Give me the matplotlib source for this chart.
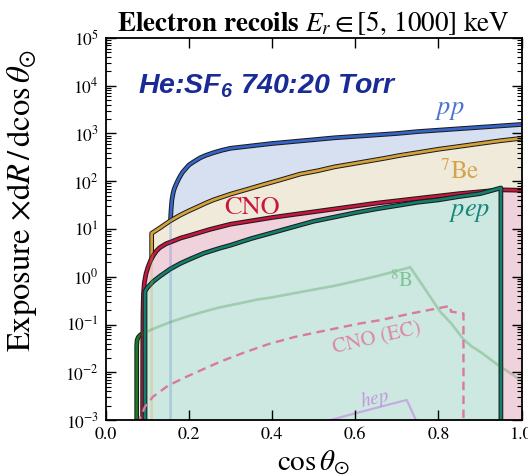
import matplotlib
matplotlib.use("Agg")
import numpy as np
import matplotlib.pyplot as plt
import matplotlib.patheffects as pe
from matplotlib.ticker import LogLocator, NullFormatter, FixedLocator

plt.rcParams['font.family'] = ['STIXGeneral', 'DejaVu Serif']
plt.rcParams['mathtext.fontset'] = 'stix'
# custom math font used only by the gas-mixture label
plt.rcParams['mathtext.rm'] = 'Liberation Sans:bold:italic'
plt.rcParams['mathtext.it'] = 'Liberation Sans:bold:italic'
plt.rcParams['mathtext.bf'] = 'Liberation Sans:bold:italic'

# ---- event rates per unit cos(theta_sun) ----
pp_cos = [0.156, 0.156, 0.157, 0.159, 0.162, 0.164, 0.167, 0.171, 0.175, 0.18,
          0.185, 0.19, 0.20, 0.21, 0.227, 0.24, 0.26, 0.28, 0.30, 0.35,
          0.40, 0.45, 0.50, 0.55, 0.60, 0.65, 0.70, 0.75, 0.80, 0.85,
          0.90, 0.95, 1.00]
pp_rate = [1e-4, 16.6, 24.0, 39.8, 56.2, 66.0, 77.6, 93.0, 110, 132,
           155, 174, 219, 251, 309, 347, 398, 447, 490, 550,
           617, 676, 741, 813, 871, 933, 1000, 1096, 1175, 1259,
           1349, 1445, 1549]

be7_cos = [0.1105, 0.1105, 0.13, 0.155, 0.179, 0.20, 0.22, 0.24, 0.259, 0.30,
           0.34, 0.379, 0.42, 0.467, 0.51, 0.55, 0.59, 0.63, 0.67, 0.707,
           0.75, 0.80, 0.85, 0.90, 0.95, 1.00]
be7_rate = [1e-4, 8.13, 10.5, 14.8, 19.5, 24.0, 28.8, 34.7, 40.7, 53.7,
            67.6, 85.1, 107, 141, 166, 200, 229, 263, 302, 347,
            398, 468, 537, 617, 708, 794]

cno_cos = [0.0885, 0.089, 0.0898, 0.0908, 0.093, 0.097, 0.102, 0.108, 0.114, 0.122,
           0.13, 0.145, 0.16, 0.18, 0.20, 0.25, 0.30, 0.35, 0.40, 0.45,
           0.50, 0.55, 0.60, 0.65, 0.70, 0.75, 0.80, 0.85, 0.90, 0.95,
           1.00]
cno_rate = [1e-4, 0.0316, 0.20, 0.447, 0.759, 1.17, 1.62, 2.19, 2.75, 3.47,
            4.07, 4.90, 5.50, 6.46, 7.24, 9.77, 12.6, 14.8, 17.4, 20.0,
            22.9, 26.3, 30.2, 34.7, 38.9, 43.7, 49.0, 55.0, 60.3, 66.1,
            64.6]

pep_cos = [0.0945, 0.0945, 0.10, 0.114, 0.13, 0.155, 0.18, 0.20, 0.235, 0.275,
           0.30, 0.35, 0.40, 0.45, 0.50, 0.55, 0.60, 0.65, 0.70, 0.75,
           0.80, 0.85, 0.90, 0.925, 0.95, 0.95]
pep_rate = [1e-4, 0.49, 0.589, 0.794, 1.02, 1.45, 1.91, 2.29, 3.09, 3.98,
            4.57, 6.31, 8.32, 11.0, 14.5, 17.8, 21.9, 26.3, 30.9, 36.3,
            40.7, 47.9, 55.0, 63.0, 72.4, 1e-4]

b8_cos = [0.0745, 0.0745, 0.0755, 0.078, 0.083, 0.09, 0.0985, 0.12, 0.155, 0.20,
          0.24, 0.275, 0.32, 0.363, 0.40, 0.45, 0.50, 0.55, 0.60, 0.65,
          0.69, 0.732, 0.764, 0.78, 0.804, 0.82, 0.83, 0.86, 0.88, 0.90,
          0.948, 0.975, 1.00]
b8_rate = [1e-4, 0.0355, 0.0468, 0.0537, 0.0603, 0.0646, 0.0708, 0.085, 0.112, 0.151,
           0.19, 0.229, 0.275, 0.331, 0.37, 0.447, 0.537, 0.646, 0.81, 1.02,
           1.26, 1.58, 0.617, 0.38, 0.186, 0.132, 0.107, 0.049, 0.0347, 0.0269,
           0.0132, 0.0093, 0.0066]

cnoec_cos = [0.080, 0.0827, 0.0945, 0.114, 0.15, 0.195, 0.275, 0.335, 0.395, 0.455,
             0.515, 0.611, 0.659, 0.74, 0.828, 0.830, 0.86, 0.86]
cnoec_rate = [7.9e-4, 1.1e-3, 1.9e-3, 3.09e-3, 5.25e-3, 8.13e-3, 0.0166, 0.0263, 0.0398, 0.055,
              0.0708, 0.105, 0.123, 0.174, 0.245, 0.186, 0.170, 1e-4]

hep_cos = [0.40, 0.523, 0.60, 0.7235, 0.748, 0.76]
hep_rate = [4e-4, 9.1e-4, 1.38e-3, 2.63e-3, 9.1e-4, 5e-4]

x_ticks = [0.0, 0.2, 0.4, 0.6, 0.8, 1.0]
x_ticklabels = ['0.0', '0.2', '0.4', '0.6', '0.8', '1.0']
y_ticks = [1e-3, 1e-2, 1e-1, 1e0, 1e1, 1e2, 1e3, 1e4, 1e5]

# ---- colours ----
c_pp, f_pp = '#3565c8', '#d6e0f1'
c_be, f_be = '#d4a23a', '#f0eadb'
c_cno, f_cno = '#c8163f', '#efd2dc'
c_pep, f_pep = '#12806c', '#cde8e0'
c_b8 = '#1a7a22'
c_ec = '#d77a9c'
c_hep = '#c39ee0'

fig = plt.figure(figsize=(5.28, 4.76), dpi=100)
ax = fig.add_axes([105.7 / 528, 56 / 476, 416 / 528, 382 / 476])
ax.set_yscale('log')
ax.set_xlim(0, 1)
ax.set_ylim(1e-3, 1e5)

outline = [pe.Stroke(linewidth=3.4, foreground='#1c1c1c'), pe.Normal()]
floor = 1e-5

# 8B edge underneath the filled regions
ax.plot(b8_cos, b8_rate, color=c_b8, lw=1.9, path_effects=outline, zorder=1.2,
        solid_joinstyle='round')

layers = [(pp_cos, pp_rate, c_pp, f_pp),
          (be7_cos, be7_rate, c_be, f_be),
          (cno_cos, cno_rate, c_cno, f_cno),
          (pep_cos, pep_rate, c_pep, f_pep)]
for i, (xc, yr, lc, fc) in enumerate(layers):
    z = 1.5 + i
    ax.fill_between(xc, yr, floor, color=fc, lw=0, zorder=z)
    ax.plot(xc, yr, color=lc, lw=1.9, path_effects=outline, zorder=z + 0.1,
            solid_joinstyle='round')

# faint traces showing through the filled regions
ax.plot(pp_cos, pp_rate, color=c_pp, lw=1.9, alpha=0.22, zorder=6)
ax.plot(be7_cos, be7_rate, color=c_be, lw=1.9, alpha=0.25, zorder=6)
ax.plot(b8_cos, b8_rate, color=c_b8, lw=1.9, alpha=0.25, zorder=6,
        solid_joinstyle='round')
ax.plot(cnoec_cos, cnoec_rate, color=c_ec, lw=1.7, ls=(0, (3.6, 2.3)), zorder=6)
ax.plot(hep_cos, hep_rate, color=c_hep, lw=1.6, alpha=0.8, zorder=6)

# source labels
ax.text(0.828, 10**3.49, r'$pp$', color='#4a74d0', fontsize=19, ha='center', va='center', zorder=7)
ax.text(0.85, 10**2.19, r'$^{7}$Be', color='#d3a548', fontsize=18, ha='center', va='center', zorder=7)
ax.text(0.351, 10**1.43, 'CNO', color=c_cno, fontsize=19, ha='center', va='center', zorder=7)
ax.text(0.875, 10**1.36, r'$pep$', color='#17877a', fontsize=19, ha='center', va='center', zorder=7)
ax.text(0.711, 10**-0.10, r'$^{8}$B', color='#7cc495', fontsize=15, ha='center', va='center', zorder=7)
ax.text(0.653, 10**-1.29, 'CNO (EC)', color='#dc86a8', fontsize=15, ha='center', va='center',
        rotation=13, zorder=7)
ax.text(0.647, 10**-2.55, r'$hep$', color='#c496e0', fontsize=14, ha='center', va='center',
        rotation=13, zorder=7)

ax.text(0.078, 0.874, r'He:SF$_6$ 740:20 Torr', transform=ax.transAxes,
        family='Liberation Sans', weight='bold', style='italic', fontsize=20.5,
        color='#1a2b96', ha='left', va='center', math_fontfamily='custom', zorder=7)

ax.set_title(r'Electron recoils $E_r \in [5,\,1000]\ \mathrm{keV}$', fontsize=19.5,
             weight='bold', pad=5)
ax.set_xlabel(r'$\cos\theta_{\odot}$', fontsize=21, labelpad=4)
ax.set_ylabel(r'Exposure $\times\mathrm{d}R\,/\,\mathrm{d}\cos\theta_{\odot}$', fontsize=23.5)
ax.yaxis.set_label_coords(-0.16, 0.575)

ax.xaxis.set_major_locator(FixedLocator(x_ticks))
ax.set_xticklabels(x_ticklabels)
ax.yaxis.set_major_locator(FixedLocator(y_ticks))
ax.yaxis.set_minor_locator(LogLocator(base=10, subs=np.arange(2, 10), numticks=20))
ax.yaxis.set_minor_formatter(NullFormatter())
ax.tick_params(which='both', direction='in', top=True, right=True)
ax.tick_params(which='major', length=7, width=1.0, labelsize=13, pad=5)
ax.tick_params(which='minor', length=3.5, width=0.8)
ax.tick_params(axis='y', which='major', labelsize=12.5)

ax.xaxis.set_zorder(10)
ax.yaxis.set_zorder(10)
for s in ax.spines.values():
    s.set_zorder(11)
    s.set_linewidth(1.3)

fig.savefig('out.png', dpi=100)
